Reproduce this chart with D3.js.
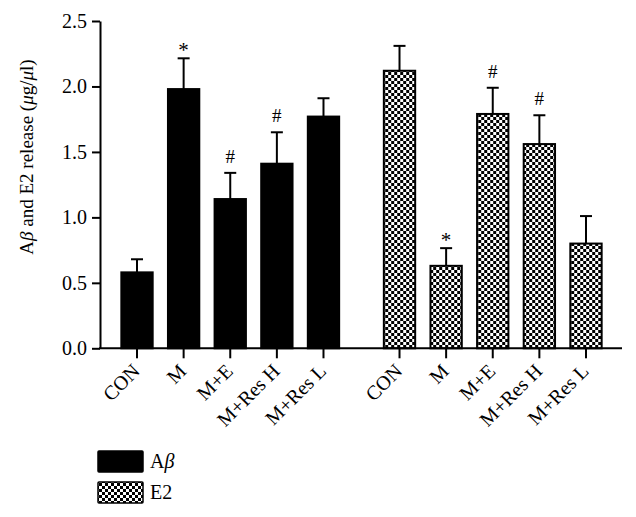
<!DOCTYPE html>
<html>
<head>
<meta charset="utf-8">
<script src="https://cdn.jsdelivr.net/npm/d3@7/dist/d3.min.js"></script>
<style>
  html, body { margin: 0; padding: 0; background: #fff; }
  svg { display: block; }
  text { font-family: "Liberation Serif", "Times New Roman", serif; fill: #000; }
</style>
</head>
<body>
<svg id="chart" width="636" height="517"></svg>
<script>
// ---- data ----
const groups = ["Aβ", "E2"];
const categories = ["CON", "M", "M+E", "M+Res H", "M+Res L"];
const abetaValues = [0.58, 1.98, 1.14, 1.41, 1.77];
const abetaErrors = [0.10, 0.235, 0.20, 0.24, 0.14];
const abetaMarks = ["", "*", "#", "#", ""];
const e2Values = [2.12, 0.63, 1.79, 1.56, 0.80];
const e2Errors = [0.19, 0.135, 0.20, 0.22, 0.21];
const e2Marks = ["", "*", "#", "#", ""];
const yTicks = [0, 0.5, 1.0, 1.5, 2.0, 2.5];

const series = [
  { group: groups[0], values: abetaValues, errors: abetaErrors, marks: abetaMarks, fill: "#000" },
  { group: groups[1], values: e2Values, errors: e2Errors, marks: e2Marks, fill: "url(#checker)" }
];

const svg = d3.select("#chart");
const defs = svg.append("defs");
const pat = defs.append("pattern").attr("id", "checker")
  .attr("patternUnits", "userSpaceOnUse").attr("width", 6).attr("height", 6);
pat.append("rect").attr("width", 6).attr("height", 6).attr("fill", "#fff");
pat.append("rect").attr("x", 0).attr("y", 0).attr("width", 3).attr("height", 3).attr("fill", "#000");
pat.append("rect").attr("x", 3).attr("y", 3).attr("width", 3).attr("height", 3).attr("fill", "#000");

const axisX0 = 100, axisX1 = 622, yTop = 21, yBottom = 348.3;
const fontSize = 19;

const y = d3.scaleLinear().domain([0, 2.5]).range([yBottom, yTop]);
const xGroup = d3.scaleBand().domain(groups).range([113.7, 609.3]).paddingInner(0.112).paddingOuter(0);
const xCat = d3.scaleBand().domain(categories).range([0, xGroup.bandwidth()])
  .paddingInner(0.285).paddingOuter(0.1425);

// y axis
const yAxis = d3.axisLeft(y).tickValues(yTicks).tickFormat(d3.format(".1f"))
  .tickSize(8).tickSizeOuter(0).tickPadding(5);
const gy = svg.append("g").attr("transform", `translate(${axisX0},0)`).call(yAxis);
gy.select(".domain").attr("stroke", "#000").attr("stroke-width", 2);
gy.selectAll(".tick line").attr("stroke", "#000").attr("stroke-width", 2);
gy.selectAll(".tick text").style("font-family", '"Liberation Serif", serif').style("font-size", "20px").attr("fill", "#000");

// y title
const title = svg.append("text")
  .attr("transform", `translate(33,157) rotate(-90)`)
  .attr("text-anchor", "middle")
  .style("font-size", fontSize + "px");
title.append("tspan").text("A");
title.append("tspan").style("font-style", "italic").text("β");
title.append("tspan").text(" and E2 release (");
title.append("tspan").style("font-style", "italic").text("μ");
title.append("tspan").text("g/");
title.append("tspan").style("font-style", "italic").text("μ");
title.append("tspan").text("l)");

// bars
series.forEach(s => {
  const g = svg.append("g").attr("transform", `translate(${xGroup(s.group)},0)`);
  const data = categories.map((c, i) => ({ c, v: s.values[i], e: s.errors[i], m: s.marks[i] }));
  g.selectAll("rect.bar").data(data).join("rect").attr("class", "bar")
    .attr("x", d => xCat(d.c) + 1)
    .attr("width", xCat.bandwidth() - 2)
    .attr("y", d => y(d.v))
    .attr("height", d => yBottom - y(d.v))
    .attr("fill", s.fill)
    .attr("stroke", "#000").attr("stroke-width", 2);
  // error bars
  g.selectAll("line.err").data(data).join("line").attr("class", "err")
    .attr("x1", d => xCat(d.c) + xCat.bandwidth() / 2)
    .attr("x2", d => xCat(d.c) + xCat.bandwidth() / 2)
    .attr("y1", d => y(d.v)).attr("y2", d => y(d.v + d.e))
    .attr("stroke", "#000").attr("stroke-width", 2);
  g.selectAll("line.cap").data(data).join("line").attr("class", "cap")
    .attr("x1", d => xCat(d.c) + xCat.bandwidth() / 2 - 6)
    .attr("x2", d => xCat(d.c) + xCat.bandwidth() / 2 + 6)
    .attr("y1", d => y(d.v + d.e)).attr("y2", d => y(d.v + d.e))
    .attr("stroke", "#000").attr("stroke-width", 2);
  g.selectAll("text.mark").data(data.filter(d => d.m)).join("text").attr("class", "mark")
    .attr("x", d => xCat(d.c) + xCat.bandwidth() / 2)
    .attr("y", d => y(d.v + d.e) - (d.m === "*" ? 1 : 10))
    .attr("text-anchor", "middle")
    .style("font-size", (d => d.m === "*" ? "21px" : "19px"))
    .text(d => d.m);
  // x ticks
  g.selectAll("line.xtick").data(data).join("line").attr("class", "xtick")
    .attr("x1", d => xCat(d.c) + xCat.bandwidth() / 2)
    .attr("x2", d => xCat(d.c) + xCat.bandwidth() / 2)
    .attr("y1", yBottom).attr("y2", yBottom + 10)
    .attr("stroke", "#000").attr("stroke-width", 2);
  g.selectAll("text.xlabel").data(data).join("text").attr("class", "xlabel")
    .attr("transform", d => `translate(${xCat(d.c) + xCat.bandwidth() / 2 + 4},${yBottom + 24}) rotate(-45)`)
    .attr("text-anchor", "end")
    .style("font-size", "20px")
    .text(d => d.c);
});

// x axis baseline
svg.append("line").attr("x1", axisX0 - 1).attr("x2", axisX1)
  .attr("y1", yBottom).attr("y2", yBottom)
  .attr("stroke", "#000").attr("stroke-width", 2);

// legend
const legend = svg.append("g");
series.forEach((s, i) => {
  const ly = 451 + i * 31;
  legend.append("rect").attr("x", 98).attr("y", ly).attr("width", 45).attr("height", 21)
    .attr("fill", s.fill).attr("stroke", "#000").attr("stroke-width", 1.5).attr("rx", 1);
  const t = legend.append("text").attr("x", 150).attr("y", ly + 17).style("font-size", "20px");
  if (s.group === "Aβ") {
    t.append("tspan").text("A");
    t.append("tspan").style("font-style", "italic").text("β");
  } else {
    t.text(s.group);
  }
});
</script>
</body>
</html>
